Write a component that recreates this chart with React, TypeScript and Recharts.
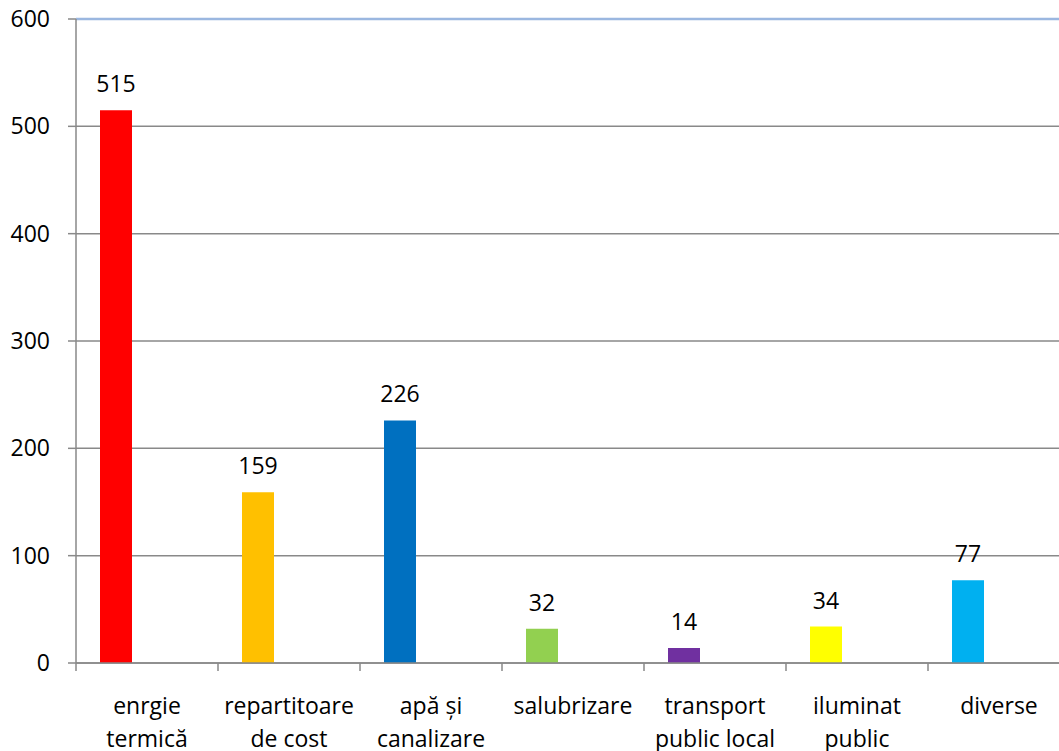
import { BarChart, Bar, XAxis, YAxis, CartesianGrid, Cell, LabelList, ReferenceLine } from 'recharts';

const categories = [
  'enrgie\ntermică',
  'repartitoare\nde cost',
  'apă și\ncanalizare',
  'salubrizare',
  'transport\npublic local',
  'iluminat\npublic',
  'diverse',
];
const values = [515, 159, 226, 32, 14, 34, 77];
const barColors = ['#FF0000', '#FFC000', '#0070C0', '#92D050', '#7030A0', '#FFFF00', '#00B0F0'];
const yTicks = [0, 100, 200, 300, 400, 500, 600];

const axisGray = '#898989';
const font = "'Open Sans', sans-serif";

const CategoryTick = (props) => {
  const { x, y, payload } = props;
  const lines = String(payload.value).split('\n');
  const half = payload.offset ?? 71;
  return (
    <g>
      <line x1={x - half} x2={x - half} y1={y - 51} y2={y - 43} stroke={axisGray} strokeWidth={1.5} />
      <text x={x} y={y} textAnchor="middle" fill="#000" fontSize={23} fontFamily={font}>
        {lines.map((line, i) => (
          <tspan key={i} x={x} dy={i === 0 ? 0 : 33}>{line}</tspan>
        ))}
      </text>
    </g>
  );
};

const App = () => {
  const data = categories.map((name, i) => ({ name, value: values[i] }));

  return (
    <div style={{ position: 'absolute', left: 0, top: 0, width: 1059, height: 751, overflow: 'hidden', background: '#fff' }}>
      <BarChart
        width={1071}
        height={751}
        data={data}
        margin={{ top: 19, right: 1, left: 0, bottom: 0 }}
        barGap={31}
        style={{ fontFamily: font }}
      >
        <CartesianGrid vertical={false} stroke={axisGray} strokeWidth={1.5} />
        <XAxis
          dataKey="name"
          interval={0}
          height={88}
          tickSize={8}
          tickMargin={43}
          tickLine={false}
          axisLine={{ stroke: axisGray, strokeWidth: 1.5 }}
          tick={CategoryTick}
        />
        <YAxis
          width={76}
          domain={[0, 600]}
          ticks={yTicks}
          interval={0}
          tickSize={8}
          tickMargin={18}
          axisLine={{ stroke: axisGray, strokeWidth: 1.5 }}
          tickLine={{ stroke: axisGray, strokeWidth: 1.5 }}
          tick={{ fill: '#000', fontSize: 23, fontFamily: font }}
        />
        <ReferenceLine y={600} stroke="#9BB7E0" strokeWidth={2.5} />
        <Bar dataKey="value" barSize={32} isAnimationActive={false}>
          {data.map((d, i) => (
            <Cell key={d.name} fill={barColors[i]} />
          ))}
          <LabelList dataKey="value" position="top" offset={18} fill="#000" fontSize={23} fontFamily={font} />
        </Bar>
        <Bar dataKey="none" barSize={32} fill="transparent" isAnimationActive={false} />
      </BarChart>
    </div>
  );
};

export default App;
